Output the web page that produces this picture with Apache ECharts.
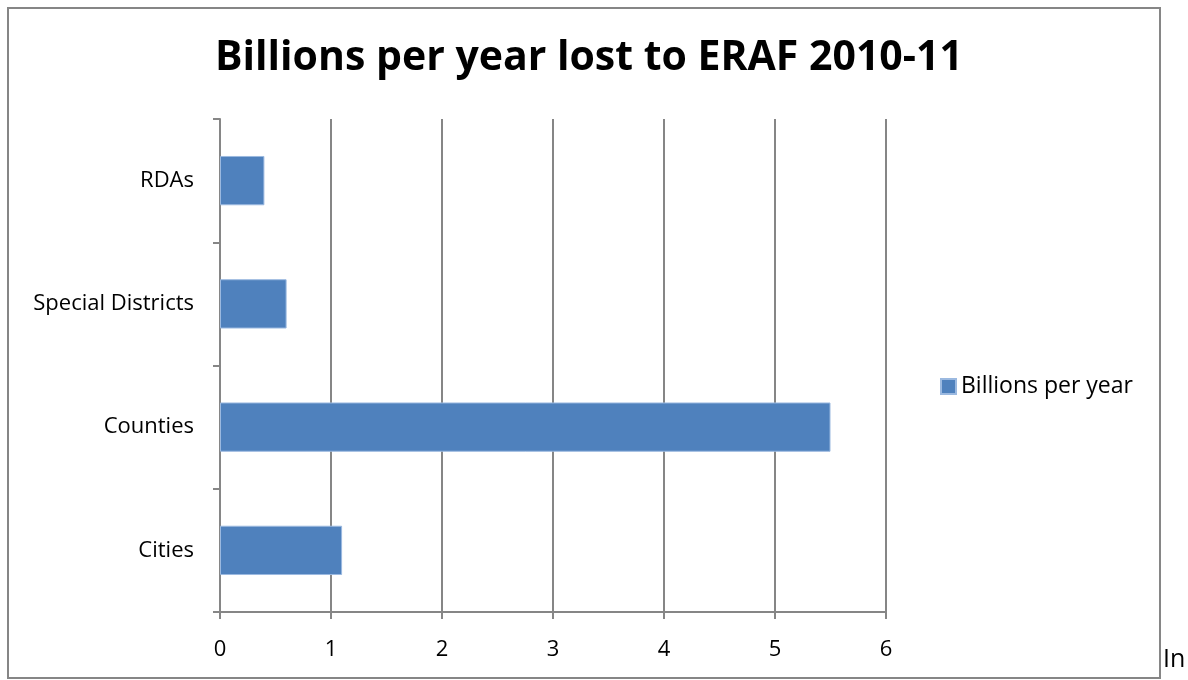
<!DOCTYPE html>
<html><head><meta charset="utf-8">
<script src="https://cdn.jsdelivr.net/npm/echarts@6/dist/echarts.min.js"></script>
<style>html,body{margin:0;padding:0;background:#fff}#c{width:1188px;height:680px}</style>
</head><body><div id="c"></div>
<script>
const categories = ['Cities', 'Counties', 'Special Districts', 'RDAs'];
const values = [1.1, 5.5, 0.6, 0.4];
const xTicks = [0, 1, 2, 3, 4, 5, 6];
const seriesName = 'Billions per year';
const titleText = 'Billions per year lost to ERAF 2010-11';

const chart = echarts.init(document.getElementById('c'), null, {renderer: 'canvas'});
const F = 'Open Sans, Liberation Sans, sans-serif';
chart.setOption({
  animation: false,
  backgroundColor: '#fff',
  title: {text: titleText, left: 210, top: 33, itemGap: 0,
    textStyle: {fontFamily: F, fontWeight: 'bold', fontSize: 41, color: '#000'}},
  legend: {show: true, left: 940, top: 375, padding: 0, itemWidth: 15, itemHeight: 15, itemGap: 5,
    icon: 'rect', textStyle: {fontFamily: F, fontSize: 23, color: '#000', padding: [0,0,0,0]}},
  grid: {left: 220, right: 302, top: 119, bottom: 68, containLabel: false},
  xAxis: {type: 'value', min: xTicks[0], max: xTicks[xTicks.length - 1], interval: 1,
    axisLine: {show: true, lineStyle: {color: '#868686', width: 2}},
    axisTick: {show: true, length: 7, lineStyle: {color: '#868686', width: 2}},
    splitLine: {show: true, lineStyle: {color: '#868686', width: 2}},
    axisLabel: {fontFamily: F, fontSize: 22, color: '#000', margin: 27}},
  yAxis: {type: 'category', data: categories,
    axisLine: {show: true, lineStyle: {color: '#868686', width: 2}},
    axisTick: {show: true, length: 7, lineStyle: {color: '#868686', width: 2}},
    axisLabel: {fontFamily: F, fontSize: 22, color: '#000', margin: 26}},
  series: [{name: seriesName, type: 'bar', data: values, barWidth: '40%',
    itemStyle: {color: '#4f81bd', borderColor: '#9bb9e0', borderWidth: 1}}],
  graphic: [
    {type: 'rect', shape: {x: 8, y: 8, width: 1152, height: 670}, style: {fill: 'none', stroke: '#868686', lineWidth: 2}, z: 100},
    {type: 'text', left: 1163, top: 647, style: {text: 'In', font: '25px ' + F, fill: '#000'}}
  ]
});
</script></body></html>
